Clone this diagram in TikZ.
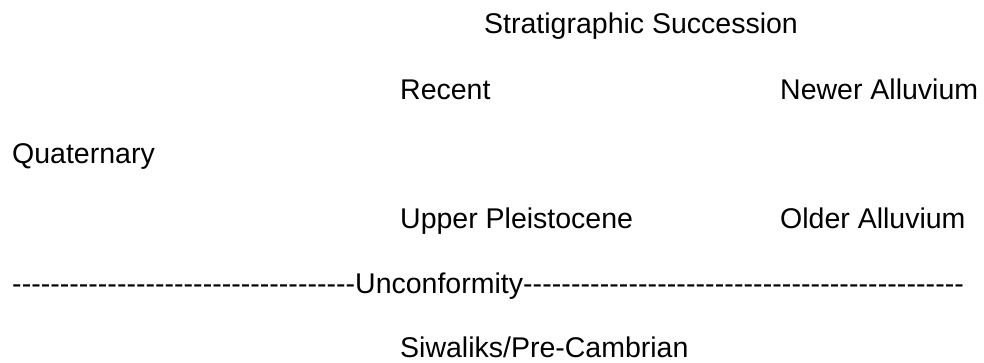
\documentclass[tikz,border=0pt]{standalone}
\usepackage{fontspec}
\setmainfont{Liberation Sans}
\begin{document}
\begin{tikzpicture}[x=1pt,y=1pt,
  lbl/.style={anchor=base west,inner sep=0pt,font=\fontsize{28.5}{33}\selectfont}]
\useasboundingbox[fill=white] (0,0) rectangle (984,-362);
\node[lbl] (title) at (484,-33) {Stratigraphic Succession};
\node[lbl] (recent) at (400,-99) {Recent};
\node[lbl] (newer) at (780,-99) {Newer Alluvium};
\node[lbl] (quat) at (12,-163) {Quaternary};
\node[lbl] (upper) at (400,-228) {Upper Pleistocene};
\node[lbl] (older) at (780,-228) {Older Alluvium};
\node[lbl] (unconf) at (12,-293) {\hbox to 343pt{\xleaders\hbox{-}\hfill}Unconformity\hbox to 441pt{\xleaders\hbox{-}\hfill}};
\node[lbl] (siw) at (400,-357) {Siwaliks/Pre-Cambrian};
\end{tikzpicture}
\end{document}
